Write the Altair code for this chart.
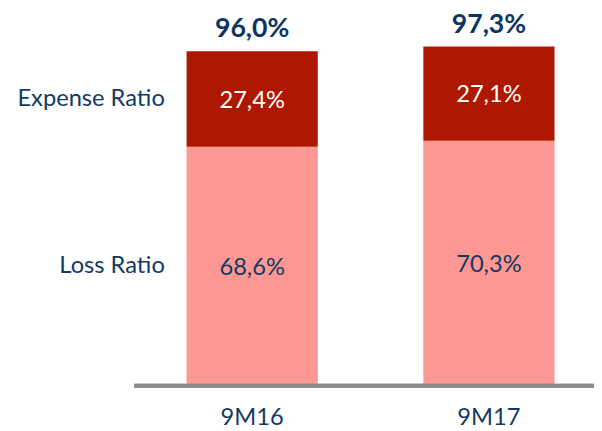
import altair as alt
import pandas as pd

periods = ["9M16", "9M17"]
loss_ratio = [68.6, 70.3]
expense_ratio = [27.4, 27.1]
combined_ratio = [96.0, 97.3]
component_names = ["Loss Ratio", "Expense Ratio"]

FONT = "Lato"
NAVY = "#133A62"
DARK = "#AF1800"
PINK = "#FF9792"
GRAY = "#8C8C8C"


def fmt(v):
    return f"{v:.1f}".replace(".", ",") + "%"


rows = []
for i, p in enumerate(periods):
    rows.append(dict(period=p, component="Loss Ratio", low=0.0, high=loss_ratio[i], value=loss_ratio[i]))
    rows.append(dict(period=p, component="Expense Ratio", low=loss_ratio[i],
                     high=loss_ratio[i] + expense_ratio[i], value=expense_ratio[i]))
seg = pd.DataFrame(rows)
seg["mid"] = (seg["low"] + seg["high"]) / 2
seg["label"] = seg["value"].map(fmt)

tot = pd.DataFrame({"period": periods, "total": combined_ratio,
                    "label": [fmt(v) for v in combined_ratio]})

names = seg[seg["period"] == periods[0]][["component", "mid"]]

xscale = alt.Scale(range=[181, 554], paddingInner=0.4458, paddingOuter=0)
yscale = alt.Scale(domain=[0, 107.6], nice=False, zero=True)

x_enc = alt.X("period:N", scale=xscale,
              axis=alt.Axis(title=None, domain=False, ticks=False, grid=False,
                            labelAngle=0, labelFont=FONT, labelFontSize=24,
                            labelColor=NAVY, labelPadding=32, labelBaseline="middle"))

bars = alt.Chart(seg).mark_bar().encode(
    x=x_enc,
    y=alt.Y("low:Q", scale=yscale, axis=None),
    y2="high:Q",
    color=alt.Color("component:N", scale=alt.Scale(domain=component_names, range=[PINK, DARK]),
                    legend=None),
)

seg_text = alt.Chart(seg).mark_text(font=FONT, fontSize=24, baseline="middle", dy=2).encode(
    x=alt.X("period:N", scale=xscale),
    y=alt.Y("mid:Q", scale=yscale),
    text="label:N",
    color=alt.condition(alt.datum.component == "Expense Ratio", alt.value("white"), alt.value(NAVY)),
)

tot_text = alt.Chart(tot).mark_text(font=FONT, fontSize=27, fontWeight="bold", baseline="bottom",
                                    dy=-8, color="#0D355F").encode(
    x=alt.X("period:N", scale=xscale),
    y=alt.Y("total:Q", scale=yscale),
    text="label:N",
)

name_text = alt.Chart(names).mark_text(font=FONT, fontSize=24, align="right", baseline="middle",
                                       color=NAVY).encode(
    x=alt.value(159),
    y=alt.Y("mid:Q", scale=yscale),
    text="component:N",
)

baseline = alt.Chart(tot).mark_rule(color=GRAY, strokeWidth=4).encode(
    x=alt.value(128), x2=alt.value(594), y=alt.datum(0)
)

chart = alt.layer(bars, baseline, seg_text, tot_text, name_text).properties(
    width=594, height=380,
    autosize=alt.AutoSizeParams(type="none"),
    padding={"left": 0, "top": 0, "right": 0, "bottom": 43},
).configure_view(stroke=None)

chart.save("out.html", embed_options={"renderer": "svg", "actions": False})
